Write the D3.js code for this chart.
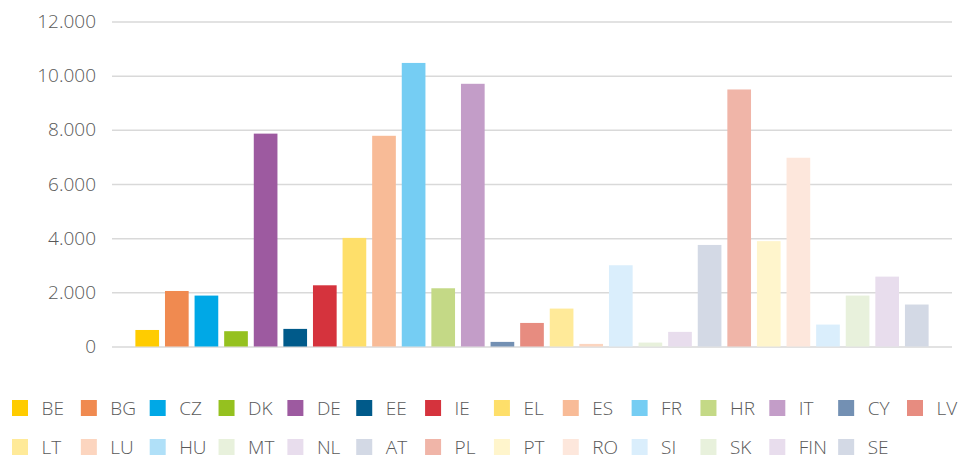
<!DOCTYPE html>
<html>
<head>
<meta charset="utf-8">
<script src="https://cdn.jsdelivr.net/npm/d3@7"></script>
<style>
  body { margin: 0; background: #fff; }
  text { font-family: "Open Sans", sans-serif; }
</style>
</head>
<body>
<div id="chart"></div>
<script>
// Data
const countries = ["BE", "BG", "CZ", "DK", "DE", "EE", "IE", "EL", "ES", "FR", "HR", "IT", "CY", "LV",
                   "LT", "LU", "HU", "MT", "NL", "AT", "PL", "PT", "RO", "SI", "SK", "FIN", "SE"];
const values = [610, 2050, 1880, 565, 7860, 650, 2260, 4010, 7780, 10470, 2150, 9700, 170, 870,
                1400, 96, 3000, 145, 540, 3750, 9490, 3890, 6970, 810, 1880, 2580, 1550];
const yTicks = [0, 2000, 4000, 6000, 8000, 10000, 12000];
const yTickLabels = ["0", "2.000", "4.000", "6.000", "8.000", "10.000", "12.000"];

const barColors = ["#ffcc00", "#f08a50", "#00a8e6", "#95c11f", "#9d5aa0", "#005a8a", "#d5333d", "#fedf6a",
                   "#f8bb97", "#75cdf3", "#c4d986", "#c39dc8", "#7390b3", "#e78c80",
                   "#ffea99", "#fcd5bf", "#daeefc", "#e8f1dc", "#e8dded", "#d3d9e5", "#f0b5a8", "#fff5cc",
                   "#fde7dc", "#daeefc", "#e8f1dc", "#e8dded", "#d3d9e5"];
// legend swatch for HU is a stronger blue than its bar
const legendColors = barColors.map((c, i) => countries[i] === "HU" ? "#b0e0f8" : c);

const width = 963;
const height = 459;
const plot = { left: 112, right: 952, top: 21.5, bottom: 346.5 };

const svg = d3.select("#chart")
    .append("svg")
    .attr("width", width)
    .attr("height", height);

const x = d3.scaleBand()
    .domain(countries)
    .range([plot.left, plot.right])
    .paddingInner(0.2)
    .paddingOuter(0.79);

const y = d3.scaleLinear()
    .domain([0, 12000])
    .range([plot.bottom, plot.top]);

// gridlines + labels
const yAxis = svg.append("g")
    .attr("transform", `translate(${plot.left}, 0)`)
    .call(d3.axisLeft(y)
        .tickValues(yTicks)
        .tickSize(-(plot.right - plot.left))
        .tickPadding(16)
        .tickFormat((d, i) => yTickLabels[i]));

yAxis.attr("font-size", null).attr("font-family", null);
yAxis.select(".domain").remove();
yAxis.selectAll(".tick line")
    .attr("stroke", "#d9d9d9")
    .attr("stroke-width", 1.5);
yAxis.selectAll(".tick text")
    .attr("fill", "#595959")
    .attr("font-size", 19)
    .attr("font-weight", 300);

// bars
svg.append("g")
    .selectAll("rect")
    .data(values)
    .join("rect")
    .attr("x", (d, i) => x(countries[i]))
    .attr("y", d => y(d))
    .attr("width", x.bandwidth())
    .attr("height", d => y(0) - y(d))
    .attr("fill", (d, i) => barColors[i]);

// legend, two rows of 14 columns
const perRow = 14;
const colX = d3.scaleLinear().domain([0, 13]).range([12, 907]);
const rowY = [408, 447];

const legend = svg.append("g")
    .selectAll("g")
    .data(countries)
    .join("g")
    .attr("transform", (d, i) => `translate(${colX(i % perRow)}, ${rowY[Math.floor(i / perRow)]})`);

legend.append("rect")
    .attr("x", 0)
    .attr("y", -8)
    .attr("width", 16)
    .attr("height", 16)
    .attr("fill", (d, i) => legendColors[i]);

legend.append("text")
    .attr("x", 29.5)
    .attr("y", 0)
    .attr("dy", "0.36em")
    .attr("fill", "#595959")
    .attr("font-size", 19)
    .attr("font-weight", 300)
    .text(d => d);
</script>
</body>
</html>
